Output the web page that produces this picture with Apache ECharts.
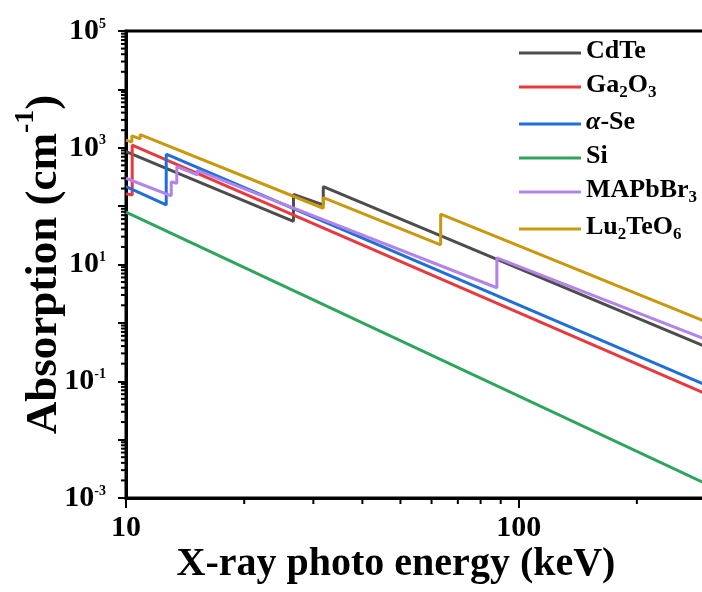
<!DOCTYPE html>
<html>
<head>
<meta charset="utf-8">
<script src="https://cdn.jsdelivr.net/npm/echarts@6/dist/echarts.min.js"></script>
<style>
  html, body { margin: 0; padding: 0; background: #fff; }
  #chart { width: 702px; height: 592px; }
</style>
</head>
<body>
<div id="chart"></div>
<script>
// [energy keV, absorption cm^-1], straight segments in log-log with jumps at edges
const cdte = [[10, 857], [26.7, 55], [26.7, 158], [31.8, 105], [31.8, 215], [300, 0.39]];
const ga2o3 = [[10, 162], [10.37, 155], [10.37, 1110], [300, 0.061]];
const aSe = [[10, 216], [12.66, 105], [12.66, 775], [300, 0.086]];
const si = [[10, 79], [300, 0.00175]];
const mapbbr3 = [[10, 300], [13.04, 150], [13.04, 262], [13.47, 245], [13.47, 475],
  [15.2, 345], [15.2, 410], [88, 4.0], [88, 13], [300, 0.52]];
const lu2teo6 = [[10, 1350], [10.35, 1250], [10.35, 1600], [10.87, 1420], [10.87, 1680],
  [31.8, 92], [31.8, 140], [63.3, 21.7], [63.3, 73], [300, 1.05]];

const names = ['CdTe', 'Ga2O3', 'a-Se', 'Si', 'MAPbBr3', 'Lu2TeO6'];
const legendLabels = {
  'CdTe': '{b|CdTe}',
  'Ga2O3': '{b|Ga}{s|2}{b|O}{s|3}',
  'a-Se': '{i|α}{b|-Se}',
  'Si': '{b|Si}',
  'MAPbBr3': '{b|MAPbBr}{s|3}',
  'Lu2TeO6': '{b|Lu}{s|2}{b|TeO}{s|6}'
};
const colors = ['#4d4d4d', '#e8393f', '#1f6fd8', '#2ea55c', '#b283e8', '#c9980e'];

// minor tick positions
const xMinor = [20, 30, 40, 50, 60, 70, 80, 90, 200];
const mantissas = [2, 3, 4, 5, 6, 7, 8, 9];
const decades = [0.001, 0.01, 0.1, 1, 10, 100, 1000, 10000];

const yMinor = [];
decades.forEach(d => mantissas.forEach(m => yMinor.push(m * d)));

const serif = '"Liberation Serif", "Times New Roman", serif';

const myChart = echarts.init(document.getElementById('chart'));

function lineSeries(name, data, color) {
  return {
    name: name,
    type: 'line',
    data: data,
    symbol: 'none',
    lineStyle: { color: color, width: 3 },
    itemStyle: { color: color },
    z: 3
  };
}

function tickSeries(data, horizontal, len) {
  return {
    type: 'custom',
    silent: true,
    clip: false,
    data: data,
    renderItem: function (params, api) {
      const p = api.coord([api.value(0), api.value(1)]);
      const shape = horizontal
        ? { x1: p[0], y1: p[1], x2: p[0], y2: p[1] + len }
        : { x1: p[0] - len, y1: p[1], x2: p[0], y2: p[1] };
      return { type: 'line', shape: shape, style: { stroke: '#000', lineWidth: 2 } };
    },
    z: 4
  };
}

const option = {
  animation: false,
  backgroundColor: '#fff',
  grid: {
    left: 126,
    top: 31,
    right: -4,
    bottom: 94,
    outerBoundsMode: 'none',
    show: true,
    borderColor: '#000',
    borderWidth: 3
  },
  legend: {
    data: names,
    orient: 'vertical',
    left: 519,
    top: 38,
    padding: 0,
    icon: 'rect',
    itemWidth: 62,
    itemHeight: 3,
    itemGap: 8,
    formatter: function (name) { return legendLabels[name]; },
    textStyle: {
      rich: {
        b: { fontFamily: serif, fontSize: 26, fontWeight: 'bold', color: '#000', lineHeight: 30, verticalAlign: 'top' },
        i: { fontFamily: serif, fontSize: 26, fontWeight: 'bold', fontStyle: 'italic', color: '#000', lineHeight: 30, verticalAlign: 'top' },
        s: { fontFamily: serif, fontSize: 17, fontWeight: 'bold', color: '#000', lineHeight: 30, verticalAlign: 'top', padding: [12, 0, 0, 0] }
      }
    }
  },
  xAxis: {
    type: 'log',
    logBase: 10,
    min: 10,
    max: 300,
    name: 'X-ray photo energy (keV)',
    nameLocation: 'middle',
    nameGap: 47,
    nameMoveOverlap: false,
    nameTextStyle: {
      fontFamily: serif, fontSize: 40, fontWeight: 'bold', color: '#000',
      padding: [0, 40, 0, 0]
    },
    axisLine: { lineStyle: { color: '#000', width: 3 } },
    axisTick: { inside: false, length: 10, lineStyle: { color: '#000', width: 2 } },
    axisLabel: {
      margin: 15,
      showMaxLabel: false,
      fontFamily: serif, fontSize: 30, fontWeight: 'bold', color: '#000',
      formatter: function (v) {
        const e = Math.log10(v);
        return Math.abs(e - Math.round(e)) < 1e-6 ? String(Math.round(v)) : '';
      }
    },
    splitLine: { show: false }
  },
  yAxis: {
    type: 'log',
    logBase: 10,
    min: 0.001,
    max: 100000,
    name: '{b|Absorption (cm}{sup|-1}{b|)}',
    nameLocation: 'middle',
    nameGap: 58,
    nameMoveOverlap: false,
    nameTextStyle: {
      rich: {
        b: { fontFamily: serif, fontSize: 45, fontWeight: 'bold', color: '#000', lineHeight: 56, verticalAlign: 'top', padding: [10, 0, 0, 0] },
        sup: { fontFamily: serif, fontSize: 28, fontWeight: 'bold', color: '#000', lineHeight: 56, verticalAlign: 'top' }
      }
    },
    axisLine: { lineStyle: { color: '#000', width: 3 } },
    axisTick: { inside: false, length: 8, lineStyle: { color: '#000', width: 2 } },
    axisLabel: {
      margin: 20,
      formatter: function (v) {
        const e = Math.round(Math.log10(v));
        if (Math.abs(e) % 2 !== 1) return '';
        return '{b|10}{sup|' + e + '}';
      },
      rich: {
        b: { fontFamily: serif, fontSize: 30, fontWeight: 'bold', color: '#000', lineHeight: 30, verticalAlign: 'top' },
        sup: { fontFamily: serif, fontSize: 14, fontWeight: 'bold', color: '#000', lineHeight: 30, verticalAlign: 'top', padding: [1, 0, 0, 0] }
      }
    },
    splitLine: { show: false }
  },
  series: [
    lineSeries('CdTe', cdte, colors[0]),
    lineSeries('Ga2O3', ga2o3, colors[1]),
    lineSeries('a-Se', aSe, colors[2]),
    lineSeries('Si', si, colors[3]),
    lineSeries('MAPbBr3', mapbbr3, colors[4]),
    lineSeries('Lu2TeO6', lu2teo6, colors[5]),
    tickSeries(xMinor.map(v => [v, 0.001]), true, 6),
    tickSeries(yMinor.map(v => [10, v]), false, 5)
  ]
};

myChart.setOption(option);
</script>
</body>
</html>
